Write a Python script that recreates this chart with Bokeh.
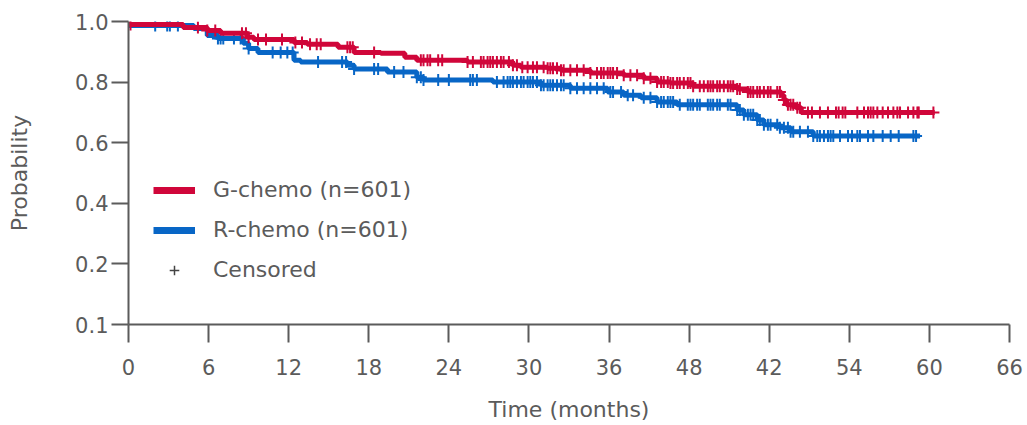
import numpy as np
from bokeh.plotting import figure
from bokeh.models import Range1d, FixedTicker, Legend, LegendItem
from bokeh.embed import file_html
from bokeh.resources import INLINE

# ---- data ----
g_times = [0.0, 4.1, 5.9, 6.9, 8.9, 9.4, 12.4, 13.4, 15.7, 16.9, 18.9, 20.7, 21.6, 25.4,
           28.8, 29.4, 31.4, 32.4, 34.6, 37.1, 38.6, 39.6, 40.6, 42.3, 45.6, 46.4, 48.9,
           49.1, 49.3, 50.0, 50.4, 60.4]
g_surv = [0.990, 0.980, 0.970, 0.961, 0.948, 0.941, 0.931, 0.925, 0.915, 0.898, 0.895, 0.882,
          0.872, 0.866, 0.856, 0.849, 0.846, 0.839, 0.830, 0.823, 0.813, 0.800, 0.797, 0.786,
          0.777, 0.767, 0.757, 0.741, 0.725, 0.715, 0.700, 0.700]

r_times = [0.0, 4.9, 5.9, 6.7, 8.6, 9.0, 9.7, 12.4, 12.9, 16.4, 16.9, 19.4, 21.6, 22.1, 27.3,
           30.9, 33.1, 35.9, 37.1, 38.4, 39.6, 41.1, 45.6, 46.1, 47.1, 47.6, 48.8, 49.6, 51.3,
           59.3]
r_surv = [0.987, 0.977, 0.954, 0.944, 0.928, 0.911, 0.898, 0.872, 0.866, 0.856, 0.843, 0.833,
          0.816, 0.807, 0.800, 0.790, 0.780, 0.767, 0.757, 0.748, 0.734, 0.725, 0.708, 0.692,
          0.675, 0.659, 0.649, 0.636, 0.622, 0.622]

g_censor = [0.15, 5.2, 5.9, 6.5, 8.5, 8.8, 9.0, 9.7, 10.3, 11.5, 12.5, 13.0, 13.6, 14.1, 14.4,
            16.4, 16.6, 16.8, 18.4, 21.9, 22.1, 22.4, 22.6, 23.2, 23.5, 25.4, 25.8, 26.4, 26.6,
            26.9, 27.1, 27.3, 27.6, 27.9, 28.1, 28.5, 28.8, 29.1, 29.5, 29.9, 30.3, 30.6, 31.1,
            31.4, 31.6, 31.8, 32.1, 32.4, 32.6, 33.1, 33.6, 34.1, 34.6, 35.1, 35.4, 35.6, 35.9,
            36.1, 36.3, 36.6, 37.1, 37.6, 38.1, 38.6, 39.1, 39.6, 39.9, 40.1, 40.4, 40.6, 40.8,
            41.1, 41.3, 41.6, 41.9, 42.1, 42.3, 42.8, 43.1, 43.4, 43.6, 43.8, 44.1, 44.3, 44.6,
            44.9, 45.1, 45.3, 45.6, 45.8, 46.4, 46.6, 46.8, 47.1, 47.3, 47.6, 47.9, 48.1, 48.6,
            48.8, 49.1, 49.4, 49.6, 49.8, 50.1, 50.3, 50.9, 51.2, 51.8, 52.4, 53.0, 53.2, 53.5,
            53.7, 54.6, 55.1, 55.4, 55.6, 55.8, 56.1, 56.5, 56.9, 57.3, 57.6, 57.8, 58.4, 58.8,
            59.1, 59.2, 60.3]
r_censor = [2.0, 2.9, 3.1, 3.7, 6.7, 6.9, 7.1, 7.9, 8.4, 9.0, 10.8, 11.4, 11.9, 12.3, 14.2,
            16.0, 16.3, 16.9, 18.4, 18.7, 19.9, 20.6, 21.6, 21.9, 22.1, 23.2, 24.0, 25.6, 25.8,
            26.1, 27.6, 28.1, 28.4, 28.6, 28.8, 29.1, 29.4, 29.6, 29.9, 30.1, 30.3, 30.6, 30.9,
            31.1, 31.4, 31.6, 31.8, 32.1, 32.4, 32.6, 33.1, 33.6, 34.1, 34.6, 35.1, 35.6, 36.1,
            36.3, 36.9, 37.4, 37.8, 38.6, 39.1, 39.6, 39.9, 40.1, 40.4, 40.6, 40.8, 41.3, 41.9,
            42.1, 42.3, 42.6, 42.8, 43.4, 43.6, 43.8, 44.1, 44.3, 44.9, 45.1, 45.6, 45.8, 46.1,
            46.4, 46.6, 46.8, 47.1, 47.3, 47.6, 47.9, 48.1, 48.6, 48.8, 49.1, 49.4, 49.6, 49.8,
            50.3, 50.9, 51.3, 51.6, 51.8, 52.1, 52.4, 52.6, 52.8, 53.3, 53.9, 54.2, 54.6, 54.8,
            55.4, 55.8, 56.5, 57.1, 57.7, 58.8, 59.0]

x_ticks = [0, 6, 12, 18, 24, 30, 36, 42, 48, 54, 60, 66]
x_tick_labels = ["0", "6", "12", "18", "24", "30", "36", "48", "42", "54", "60", "66"]
y_ticks = [0.0, 0.2, 0.4, 0.6, 0.8, 1.0]
y_tick_labels = ["0.1", "0.2", "0.4", "0.6", "0.8", "1.0"]

series_labels = ["G-chemo (n=601)", "R-chemo (n=601)", "Censored"]

RED = "#D0063A"
BLUE = "#0866C6"
GREY = "#5b5b5b"
FONT = "DejaVu Sans"


def step_value(times, surv, t):
    idx = np.searchsorted(np.asarray(times), np.asarray(t), side="right") - 1
    return np.asarray(surv)[idx]


p = figure(width=1023, height=424, x_range=Range1d(0, 66), y_range=Range1d(0, 1.0),
           output_backend="svg", toolbar_location=None,
           min_border_left=128, min_border_right=14, min_border_top=21, min_border_bottom=98)
p.outline_line_color = None
p.xgrid.grid_line_color = None
p.ygrid.grid_line_color = None
p.background_fill_color = "white"

# curves
p.step(r_times, r_surv, mode="after", line_color=BLUE, line_width=5)
p.scatter(r_censor, step_value(r_times, r_surv, r_censor), marker="cross", size=12,
          line_color=BLUE, line_width=2)
p.step(g_times, g_surv, mode="after", line_color=RED, line_width=5)
p.scatter(g_censor, step_value(g_times, g_surv, g_censor), marker="cross", size=12,
          line_color=RED, line_width=2)

# legend proxies (no visible data)
lg = p.line([np.nan], [np.nan], line_color=RED, line_width=7)
lr = p.line([np.nan], [np.nan], line_color=BLUE, line_width=7)
lc = p.scatter([np.nan], [np.nan], marker="cross", size=13, line_color="#444444", line_width=1.5)
legend = Legend(items=[LegendItem(label=series_labels[0], renderers=[lg]),
                       LegendItem(label=series_labels[1], renderers=[lr]),
                       LegendItem(label=series_labels[2], renderers=[lc])],
                location=(25, 42), border_line_color=None, background_fill_alpha=0,
                glyph_width=42, glyph_height=24, label_height=24, label_standoff=18,
                spacing=15, padding=0, margin=0,
                label_text_font=FONT, label_text_font_size="22px", label_text_color=GREY)
p.add_layout(legend)

# axes
for ax in (p.xaxis[0], p.yaxis[0]):
    ax.axis_line_color = GREY
    ax.axis_line_width = 2
    ax.major_tick_line_color = GREY
    ax.major_tick_line_width = 2
    ax.major_tick_in = 0
    ax.minor_tick_line_color = None
    ax.major_label_text_font = FONT
    ax.major_label_text_font_size = "21px"
    ax.major_label_text_color = GREY
    ax.axis_label_text_font = FONT
    ax.axis_label_text_font_size = "22px"
    ax.axis_label_text_color = GREY
    ax.axis_label_text_font_style = "normal"

p.xaxis.ticker = FixedTicker(ticks=x_ticks)
p.xaxis.major_label_overrides = {t: l for t, l in zip(x_ticks, x_tick_labels)}
p.xaxis.major_tick_out = 18
p.xaxis.major_label_standoff = 16
p.xaxis.axis_label = "Time (months)"
p.xaxis.axis_label_standoff = 19

p.yaxis.ticker = FixedTicker(ticks=y_ticks)
p.yaxis.major_label_overrides = {t: l for t, l in zip(y_ticks, y_tick_labels)}
p.yaxis.major_tick_out = 17
p.yaxis.major_label_standoff = 3
p.yaxis.axis_label = "Probability"
p.yaxis.axis_label_standoff = 40

open("out.html", "w").write(file_html(p, INLINE))
